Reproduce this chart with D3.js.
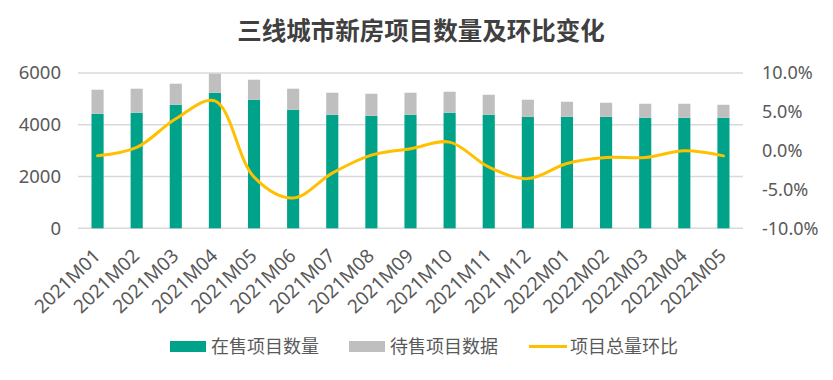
<!DOCTYPE html>
<html><head><meta charset="utf-8">
<script src="https://cdn.jsdelivr.net/npm/d3@7"></script>
<style>body{margin:0;background:#fff;}svg{display:block;}</style>
</head><body>
<svg id="c" width="833" height="380"></svg>
<script>
const categories = ["2021M01","2021M02","2021M03","2021M04","2021M05","2021M06","2021M07","2021M08","2021M09","2021M10","2021M11","2021M12","2022M01","2022M02","2022M03","2022M04","2022M05"];
const onSale = [4425,4464,4770,5236,4967,4580,4386,4348,4386,4464,4386,4309,4309,4309,4270,4270,4270];
const pending = [929,929,816,738,774,813,852,851,852,813,774,658,581,542,542,542,503];
const momChange = [-0.67,0.41,4.1,6.4,-3.4,-6.1,-2.9,-0.58,0.25,1.1,-2.1,-3.6,-1.65,-0.88,-0.88,-0.02,-0.67];
const leftTicks = [0,2000,4000,6000];
const rightTicks = [-10,-5,0,5,10];
const title = "三线城市新房项目数量及环比变化";
const legendLabels = ["在售项目数量","待售项目数据","项目总量环比"];

const svg = d3.select("#c");
const m = {l:78, r:743, t:73, b:228.3};
const x = d3.scaleBand().domain(categories).range([m.l, m.r]).paddingInner(0.69).paddingOuter(0.345);
const yL = d3.scaleLinear().domain([0,6000]).range([m.b, m.t]);
const yR = d3.scaleLinear().domain([-10,10]).range([m.b, m.t]);
const numFont = "'Noto Sans', 'Liberation Sans', sans-serif";
const cjk = "'Noto Sans CJK SC', sans-serif";
const txt = "#595959";

svg.append("text").attr("x",421).attr("y",40).attr("text-anchor","middle")
  .attr("font-family",cjk).attr("font-weight","bold").attr("font-size",24.5).attr("fill","#404040").text(title);

// gridlines
svg.append("g").selectAll("line").data(leftTicks).join("line")
  .attr("x1",m.l).attr("x2",m.r).attr("y1",d=>yL(d)).attr("y2",d=>yL(d))
  .attr("stroke","#d9d9d9").attr("stroke-width",1.5);

// left axis
const gL = svg.append("g").attr("transform",`translate(${m.l},0)`)
  .call(d3.axisLeft(yL).tickValues(leftTicks).tickSize(0).tickPadding(17).tickFormat(d3.format("d")));
gL.select(".domain").remove();
gL.selectAll("text").attr("font-family",numFont).attr("font-size",18.5).attr("fill",txt);

// right axis
const gR = svg.append("g").attr("transform",`translate(${m.r},0)`)
  .call(d3.axisRight(yR).tickValues(rightTicks).tickSize(0).tickPadding(19).tickFormat(d=>d.toFixed(1)+"%"));
gR.select(".domain").remove();
gR.selectAll("text").attr("font-family",numFont).attr("font-size",18).attr("fill",txt);

// bars
const stackData = categories.map((c,i)=>({c, a:onSale[i], b:pending[i]}));
svg.append("g").selectAll("rect").data(stackData).join("rect")
  .attr("x",d=>x(d.c)).attr("width",x.bandwidth())
  .attr("y",d=>yL(d.a)).attr("height",d=>yL(0)-yL(d.a)).attr("fill","#00A38A");
svg.append("g").selectAll("rect").data(stackData).join("rect")
  .attr("x",d=>x(d.c)).attr("width",x.bandwidth())
  .attr("y",d=>yL(d.a+d.b)).attr("height",d=>yL(d.a)-yL(d.a+d.b)).attr("fill","#BFBFBF");

// line
const line = d3.line().x((d,i)=>x(categories[i])+x.bandwidth()/2).y(d=>yR(d)).curve(d3.curveCatmullRom.alpha(0.5));
svg.append("path").datum(momChange).attr("d",line).attr("fill","none")
  .attr("stroke","#FFC000").attr("stroke-width",3).attr("stroke-linecap","round");

// x axis labels
const gX = svg.append("g").attr("transform",`translate(0,${m.b})`)
  .call(d3.axisBottom(x).tickSize(0).tickPadding(0));
gX.select(".domain").remove();
gX.selectAll("text").attr("font-family",numFont).attr("font-size",19).attr("fill",txt)
  .attr("text-anchor","end").attr("dy",0).attr("y",0)
  .attr("transform","translate(4,29) rotate(-44)");

// legend
const lg = svg.append("g");
const items = [
  {t:legendLabels[0], x:170, type:"rect", c:"#00A38A"},
  {t:legendLabels[1], x:349, type:"rect", c:"#BFBFBF"},
  {t:legendLabels[2], x:529, type:"line", c:"#FFC000"}
];
items.forEach(it=>{
  if(it.type==="rect") lg.append("rect").attr("x",it.x).attr("y",341).attr("width",36).attr("height",11).attr("fill",it.c);
  else lg.append("line").attr("x1",it.x).attr("x2",it.x+38).attr("y1",346.5).attr("y2",346.5).attr("stroke",it.c).attr("stroke-width",3);
  lg.append("text").attr("x",it.x+41).attr("y",353).attr("font-family",cjk).attr("font-size",18).attr("fill",txt).text(it.t);
});
</script>
</body></html>
